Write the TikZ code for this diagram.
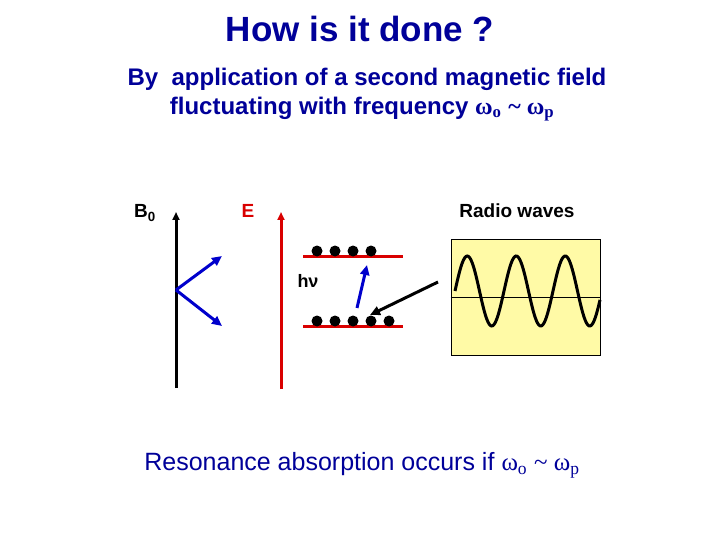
\documentclass[tikz,border=0pt]{standalone}
\usepackage{fontspec}
\setmainfont{Liberation Sans}
\newfontfamily\symf{Liberation Serif}
\usetikzlibrary{arrows.meta}
\newcommand{\om}[1]{{\symf ω\textsubscript{#1}}}
\begin{document}
\begin{tikzpicture}[x=1pt,y=-1pt,
  ax/.style={line width=3pt,-{Triangle[length=8pt,width=7pt]}},
  lvl/.style={red!85!black,line width=3pt},
  dot/.style={circle,fill=black,inner sep=0pt,minimum size=11pt},
  blue arr/.style={blue!80!black,line width=3pt,-{Triangle[length=10pt,width=9pt]}}]
\useasboundingbox (0,0) rectangle (720,540);
\node[font=\bfseries\fontsize{35}{40}\selectfont,text=blue!60!black] (title) at (360,29) {How is it done ?};
\node[font=\bfseries\fontsize{24}{28}\selectfont,text=blue!60!black] (sub1) at (367,79) {By\ \ application of a second magnetic field};
\node[font=\bfseries\fontsize{24}{28}\selectfont,text=blue!60!black] (sub2) at (362,109) {fluctuating with frequency \om{o} \symf\char"7E{} \om{p}};
\node[font=\bfseries\fontsize{19}{22}\selectfont] (b0) at (145,213) {B\textsubscript{0}};
\node[font=\bfseries\fontsize{19}{22}\selectfont,text=red!85!black] (e) at (248,211) {E};
\node[font=\bfseries\fontsize{19}{22}\selectfont] (rw) at (517,211) {Radio waves};
\node[font=\bfseries\fontsize{18}{22}\selectfont] (hn) at (308,281) {hν};
\coordinate (b0s) at (176,388); \coordinate (b0e) at (176,212);
\draw[ax] (b0s) -- (b0e);
\coordinate (o) at (176,290); \coordinate (u) at (222,256); \coordinate (d) at (222,326);
\draw[blue arr] (o) -- (u);
\draw[blue arr] (o) -- (d);
\coordinate (es) at (281,389); \coordinate (ee) at (281,212);
\draw[ax,red!85!black] (es) -- (ee);
\coordinate (t1) at (303,256); \coordinate (t2) at (403,256);
\coordinate (l1) at (303,326); \coordinate (l2) at (403,326);
\draw[lvl] (t1) -- (t2);
\draw[lvl] (l1) -- (l2);
\foreach \x [count=\i] in {317,335,353,371} \node[dot] (td\i) at (\x,251) {};
\foreach \x [count=\i] in {317,335,353,371,389} \node[dot] (bd\i) at (\x,321) {};
\coordinate (ja) at (357,308); \coordinate (jb) at (367,265);
\draw[blue arr] (ja) -- (jb);
\node[draw=black,fill=yellow!35,line width=0.8pt,minimum width=149pt,minimum height=116pt,inner sep=0pt] (box) at (525.5,297) {};
\draw[line width=0.6pt] (box.west |- 0,297) -- (box.east |- 0,297);
\draw[line width=3pt,shift={(455,0)}] plot[domain=0:145,samples=120,smooth] (\x,{291-35*sin(7.3469*\x)});
\coordinate (wa) at (438,282); \coordinate (wb) at (370,315);
\draw[line width=3pt,-{Triangle[length=10pt,width=9pt]}] (wa) -- (wb);
\node[font=\fontsize{25}{30}\selectfont,text=blue!60!black] (res) at (362,465) {Resonance absorption occurs if \om{o} \symf\char"7E{} \om{p}};
\end{tikzpicture}
\end{document}
